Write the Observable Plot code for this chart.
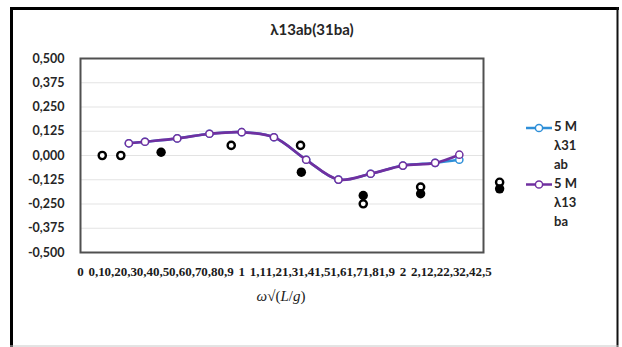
<!DOCTYPE html>
<html>
<head>
<meta charset="utf-8">
<script src="https://cdn.jsdelivr.net/npm/d3@7"></script>
<script src="https://cdn.jsdelivr.net/npm/@observablehq/plot@0.6"></script>
<style>
  html, body { margin: 0; padding: 0; background: #fff; }
  #chart svg { display: block; }
</style>
</head>
<body>
<div id="chart"></div>
<script>
// Non-dimensional frequency ω√(L/g) at which the coefficients were computed
const omega = [0.3, 0.4, 0.6, 0.8, 1.0, 1.2, 1.4, 1.6, 1.8, 2.0, 2.2, 2.35];
// Coupling coefficient λ31ab (5 M)
const lambda31ab = [0.063, 0.071, 0.088, 0.112, 0.120, 0.094, -0.022, -0.124, -0.094, -0.052, -0.038, -0.022];
// Coupling coefficient λ13ba (5 M)
const lambda13ba = [0.063, 0.071, 0.088, 0.112, 0.120, 0.094, -0.022, -0.124, -0.094, -0.052, -0.038, 0.004];

// Measured values: open and filled symbols
const openX = [0.135, 0.25, 0.935, 1.365, 1.754, 2.11, 2.6];
const openY = [0.000, 0.000, 0.052, 0.052, -0.249, -0.163, -0.138];
const filledX = [0.5, 1.37, 1.754, 2.11, 2.6];
const filledY = [0.017, -0.086, -0.206, -0.197, -0.172];

// Axis ticks
const xTicks = [0, 0.1, 0.2, 0.3, 0.4, 0.5, 0.6, 0.7, 0.8, 0.9, 1, 1.1, 1.2, 1.3, 1.4, 1.5, 1.6, 1.7, 1.8, 1.9, 2, 2.1, 2.2, 2.3, 2.4, 2.5];
const yTicks = [-0.5, -0.375, -0.25, -0.125, 0, 0.125, 0.25, 0.375, 0.5];

const title = "λ13ab(31ba)";
const seriesNames = [["5 M", "λ31", "ab"], ["5 M", "λ13", "ba"]];
const seriesColors = ["#2e8fd8", "#7030a0"];

const locale = d3.formatLocale({decimal: ",", thousands: ".", grouping: [3], currency: ["", ""], minus: "-"});
const yFormat = locale.format(".3f");
const xFormat = locale.format(".1~f");

const series31 = omega.map((x, i) => ({x, y: lambda31ab[i]}));
const series13 = omega.map((x, i) => ({x, y: lambda13ba[i]}));
const openPts = openX.map((x, i) => ({x, y: openY[i]}));
const filledPts = filledX.map((x, i) => ({x, y: filledY[i]}));

const plot = Plot.plot({
  width: 622,
  height: 347,
  marginLeft: 80,
  marginRight: 139,
  marginTop: 58,
  marginBottom: 95,
  style: {fontFamily: "Lato, 'Open Sans', sans-serif", background: "#fff", color: "#262626"},
  x: {domain: [0, 2.5], label: null},
  y: {domain: [-0.5, 0.5], label: null},
  marks: [
    Plot.gridY(yTicks, {stroke: "#e3e3e3", strokeOpacity: 1, strokeWidth: 1}),
    Plot.frame({stroke: "#505050", strokeWidth: 2}),
    Plot.axisY({ticks: yTicks, tickFormat: yFormat, tickSize: 0, tickPadding: 16, fontSize: 12.5, fontWeight: "bold", fill: "#262626", label: null}),
    Plot.axisX({ticks: xTicks, tickFormat: xFormat, tickSize: 0, tickPadding: 14, fontSize: 13, fontWeight: "bold", fontFamily: "'Liberation Serif', serif", fill: "#1a1a1a", label: null}),
    Plot.line(series31, {x: "x", y: "y", stroke: seriesColors[0], strokeWidth: 2.5, curve: "catmull-rom"}),
    Plot.dot(series31, {x: "x", y: "y", r: 3.6, fill: "#fff", stroke: seriesColors[0], strokeWidth: 1.5}),
    Plot.line(series13, {x: "x", y: "y", stroke: seriesColors[1], strokeWidth: 2.7, curve: "catmull-rom"}),
    Plot.dot(series13, {x: "x", y: "y", r: 3.6, fill: "#fff", stroke: seriesColors[1], strokeWidth: 1.5}),
    Plot.dot(openPts, {x: "x", y: "y", r: 3.6, fill: "#fff", stroke: "#000", strokeWidth: 2.4}),
    Plot.dot(filledPts, {x: "x", y: "y", r: 4.7, fill: "#000"})
  ]
});

document.getElementById("chart").appendChild(plot);

const svg = d3.select(plot);

// Outer chart border
svg.append("line").attr("x1", 11.5).attr("x2", 11.5).attr("y1", 7).attr("y2", 347).attr("stroke", "#000").attr("stroke-width", 3);
svg.append("line").attr("x1", 10).attr("x2", 619).attr("y1", 8.5).attr("y2", 8.5).attr("stroke", "#000").attr("stroke-width", 3);
svg.append("line").attr("x1", 617.5).attr("x2", 617.5).attr("y1", 7).attr("y2", 347).attr("stroke", "#111").attr("stroke-width", 2);
svg.append("line").attr("x1", 10).attr("x2", 619).attr("y1", 346).attr("y2", 346).attr("stroke", "#c8c8c8").attr("stroke-width", 1);

// Title
svg.append("text").attr("x", 312).attr("y", 31).attr("text-anchor", "middle").attr("dominant-baseline", "middle")
  .attr("font-family", "Lato, sans-serif").attr("font-weight", "bold").attr("font-size", 15).attr("fill", "#262626")
  .text(title);

// X-axis title
const xt = svg.append("text").attr("x", 281).attr("y", 298).attr("text-anchor", "middle").attr("dominant-baseline", "middle")
  .attr("font-family", "'Liberation Serif', serif").attr("font-size", 15).attr("fill", "#1a1a1a");
xt.append("tspan").attr("font-style", "italic").text("ω");
xt.append("tspan").text("√(");
xt.append("tspan").attr("font-style", "italic").text("L");
xt.append("tspan").text("/");
xt.append("tspan").attr("font-style", "italic").text("g");
xt.append("tspan").text(")");

// Legend
const legendY = [128, 184.5];
seriesNames.forEach((lines, k) => {
  const g = svg.append("g");
  const y0 = legendY[k];
  g.append("line").attr("x1", 526).attr("x2", 552).attr("y1", y0).attr("y2", y0)
    .attr("stroke", seriesColors[k]).attr("stroke-width", 2.5);
  g.append("circle").attr("cx", 539).attr("cy", y0).attr("r", 3.6)
    .attr("fill", "#fff").attr("stroke", seriesColors[k]).attr("stroke-width", 1.5);
  lines.forEach((t, j) => {
    g.append("text").attr("x", 554).attr("y", y0 + j * 19).attr("text-anchor", "start").attr("dominant-baseline", "middle")
      .attr("font-family", "Lato, sans-serif").attr("font-weight", "bold").attr("font-size", 13).attr("fill", "#262626")
      .text(t);
  });
});
</script>
</body>
</html>
